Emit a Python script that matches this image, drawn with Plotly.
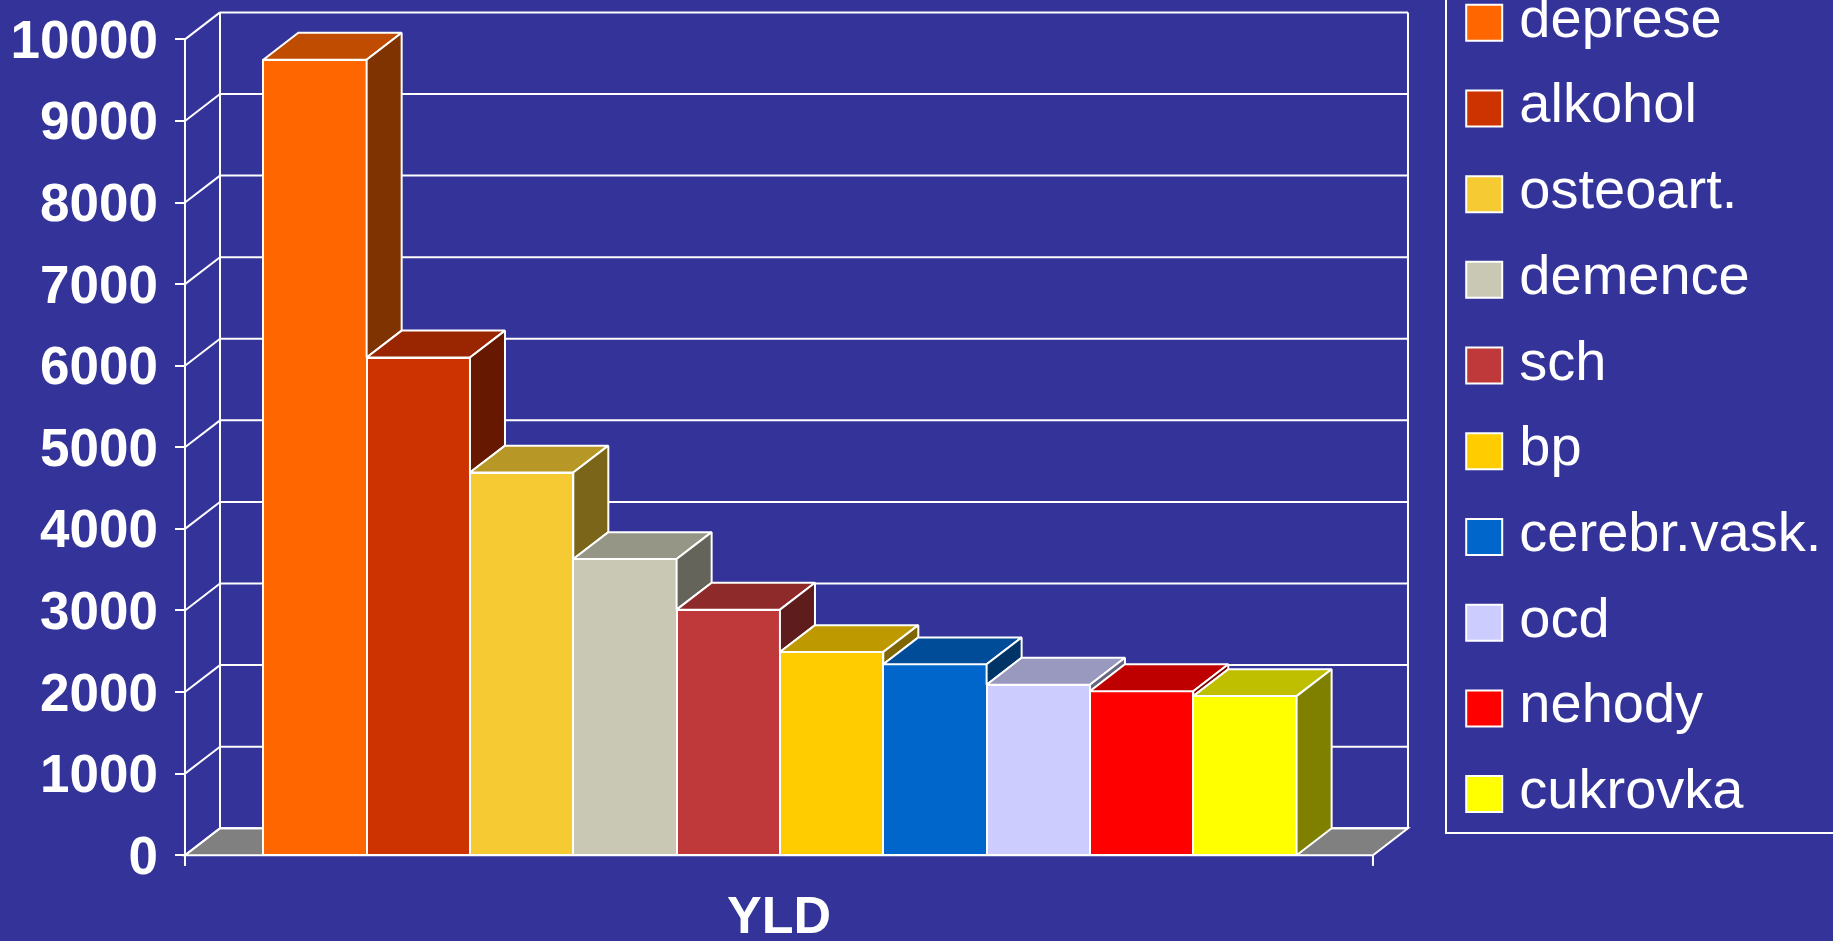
import plotly.graph_objects as go

# ---------------- data ----------------
categories = ["deprese", "alkohol", "osteoart.", "demence", "sch", "bp",
              "cerebr.vask.", "ocd", "nehody", "cukrovka"]
values = [9750, 6100, 4690, 3630, 3010, 2490, 2340, 2090, 2010, 1950]
front_colors = ["#FF6600", "#CC3300", "#F5CA32", "#C8C8B4", "#BF383A",
                "#FFCC00", "#0066CC", "#CCCCFF", "#FF0000", "#FFFF00"]
tick_values = list(range(0, 10001, 1000))
axis_title = "YLD"

# ---------------- style / geometry ----------------
BG = "#333399"
WHITE = "white"
FONT = "Liberation Sans, Arial, sans-serif"
W = 1833
REF_H = 941        # picture height used for the layout measurements
FIG_H = 956        # figure height (fills the browser viewport)
DX = 0.339      # depth offset in bar-width units
DY = 330        # depth offset in value units
PAD_L, PAD_R = 0.758, 0.739   # floor margins beyond the bars (bar-width units)
TICK_DOWN = 131


def shade(hex_color, f):
    h = hex_color.lstrip("#")
    r, g, b = (int(h[i:i + 2], 16) for i in (0, 2, 4))
    return "#%02X%02X%02X" % (int(r * f), int(g * f), int(b * f))


n = len(values)
xf_l = -PAD_L
xf_r = n + PAD_R
vmax = tick_values[-1]

fig = go.Figure()

# front faces
fig.add_trace(go.Bar(
    x=[i + 0.5 for i in range(n)], y=values, width=1,
    marker=dict(color=front_colors, line=dict(color=WHITE, width=2)),
    showlegend=False, hoverinfo="skip"))

# top and side faces
for i, v in enumerate(values):
    top_c = shade(front_colors[i], 0.75)
    side_c = shade(front_colors[i], 0.5)
    fig.add_trace(go.Scatter(
        x=[i, i + 1, i + 1 + DX, i + DX, i],
        y=[v, v, v + DY, v + DY, v],
        mode="lines", fill="toself", fillcolor=top_c,
        line=dict(color=WHITE, width=2), showlegend=False, hoverinfo="skip"))
    lo = values[i + 1] if i + 1 < n else 0
    fig.add_trace(go.Scatter(
        x=[i + 1, i + 1 + DX, i + 1 + DX, i + 1, i + 1],
        y=[lo, lo + DY, v + DY, v, lo],
        mode="lines", fill="toself", fillcolor=side_c,
        line=dict(color=WHITE, width=2), showlegend=False, hoverinfo="skip"))

# structural elements (below traces)
shapes = []
line_style = dict(color=WHITE, width=2)
# floor
shapes.append(dict(type="path", xref="x", yref="y", layer="below",
                   path=f"M{xf_l},0 L{xf_r},0 L{xf_r + DX},{DY} L{xf_l + DX},{DY} Z",
                   fillcolor="#808080", line=line_style))
for t in tick_values:
    # back wall gridlines
    shapes.append(dict(type="line", xref="x", yref="y", layer="below",
                       x0=xf_l + DX, x1=xf_r + DX, y0=t + DY, y1=t + DY, line=line_style))
    # left wall diagonals
    shapes.append(dict(type="line", xref="x", yref="y", layer="below",
                       x0=xf_l, x1=xf_l + DX, y0=t, y1=t + DY, line=line_style))
# back wall verticals
for xb in (xf_l + DX, xf_r + DX):
    shapes.append(dict(type="line", xref="x", yref="y", layer="below",
                       x0=xb, x1=xb, y0=DY, y1=vmax + DY, line=line_style))
# front axis line and bottom ticks
shapes.append(dict(type="line", xref="x", yref="y", layer="below",
                   x0=xf_l, x1=xf_l, y0=-TICK_DOWN, y1=vmax, line=line_style))
shapes.append(dict(type="line", xref="x", yref="y", layer="below",
                   x0=xf_r, x1=xf_r, y0=-TICK_DOWN, y1=0, line=line_style))

# ---------------- custom legend ----------------
idx = list(range(n))
fig.add_trace(go.Scatter(
    x=[0.0964] * n, y=idx, xaxis="x2", yaxis="y2", mode="markers",
    marker=dict(symbol="square", size=36, color=front_colors,
                line=dict(color=WHITE, width=2)),
    showlegend=False, hoverinfo="skip"))
fig.add_trace(go.Scatter(
    x=[0.1875] * n, y=idx, xaxis="x2", yaxis="y2", mode="text",
    text=categories, textposition="middle right",
    textfont=dict(family=FONT, size=56, color=WHITE),
    showlegend=False, hoverinfo="skip", cliponaxis=False))

# ---------------- layout ----------------
L_px, R_px, T_px, B_px = 175, 1420, 5, 870
x0_bar_px, bar_w_px = 263.3, 103.33
y0_px, px_per_val = 854.3, 0.0815
x_range = [(L_px - x0_bar_px) / bar_w_px, (R_px - x0_bar_px) / bar_w_px]
y_range = [(y0_px - B_px) / px_per_val, (y0_px - T_px) / px_per_val]

leg_left, leg_bottom = 1447, 831
leg_first, leg_step = 22.7, 85.62

fig.update_layout(
    width=W, height=FIG_H,
    paper_bgcolor=BG, plot_bgcolor="rgba(0,0,0,0)",
    margin=dict(l=0, r=0, t=0, b=0),
    showlegend=False,
    bargap=0,
    shapes=shapes,
    xaxis=dict(domain=[L_px / W, R_px / W], range=x_range, visible=False, fixedrange=True),
    yaxis=dict(domain=[(REF_H - B_px) / REF_H, (REF_H - T_px) / REF_H], range=y_range,
               tickvals=tick_values, ticktext=[str(t) for t in tick_values],
               ticks="inside", ticklen=10, tickwidth=2, tickcolor=WHITE,
               showgrid=False, zeroline=False, showline=False,
               ticklabelstandoff=16,
               tickfont=dict(family=FONT, size=53, color=WHITE, weight="bold"),
               fixedrange=True),
    xaxis2=dict(domain=[leg_left / W, 1], range=[0, 1], anchor="y2", fixedrange=True,
                showline=True, linecolor=WHITE, linewidth=2, mirror=False,
                showgrid=False, zeroline=False, showticklabels=False, ticks=""),
    yaxis2=dict(domain=[(REF_H - leg_bottom) / REF_H, 1], anchor="x2", fixedrange=True,
                range=[(leg_bottom - leg_first) / leg_step, -leg_first / leg_step],
                showline=True, linecolor=WHITE, linewidth=2, mirror=False,
                showgrid=False, zeroline=False, showticklabels=False, ticks=""),
    annotations=[dict(text=axis_title, xref="x", yref="paper",
                      x=(xf_l + xf_r) / 2, y=(REF_H - 914) / REF_H,
                      xanchor="center", yanchor="middle", showarrow=False,
                      font=dict(family=FONT, size=52, color=WHITE, weight="bold"))],
)

post = (
    "document.documentElement.style.overflow='hidden';"
    "document.documentElement.style.margin='0';"
    "document.body.style.margin='0';"
    "document.body.style.padding='0';"
    "document.body.style.overflow='hidden';"
    "document.body.style.background='#333399';"
)

fig.write_html("out.html", config={"displayModeBar": False}, post_script=post)
